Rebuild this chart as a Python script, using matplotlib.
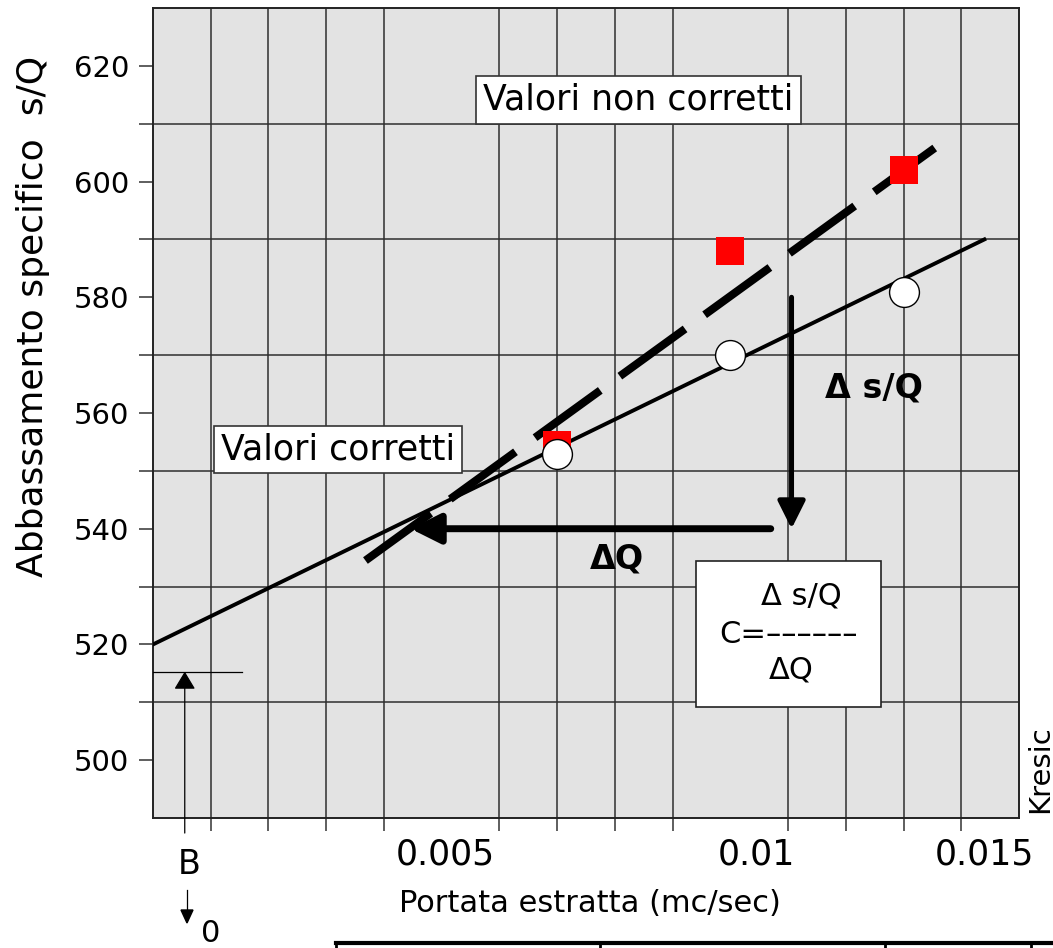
import numpy as np
import matplotlib
matplotlib.use("Agg")
import matplotlib.pyplot as plt
from matplotlib.transforms import ScaledTranslation
from matplotlib.patches import Rectangle
from matplotlib.lines import Line2D

plt.rcParams['font.family'] = ['DejaVu Sans']

# data
q_pts = [0.007, 0.010, 0.013]
sq_corr = [553, 570, 581]          # valori corretti (circles)
sq_uncorr = [554.5, 588, 602]      # valori non corretti (red squares)

fit_corr_q = [0.0, 0.0144]
fit_corr_sq = [520, 590]
fit_uncorr_q = [0.00368, 0.01354]
fit_uncorr_sq = [534.5, 605.8]

dq_arrow_q = [0.0107, 0.00446]     # horizontal arrow (Delta Q)
dq_arrow_sq = 540
ds_arrow_q = 0.01106               # vertical arrow (Delta s/Q)
ds_arrow_sq = [580, 540]

b_q = 0.00055
b_sq = 515.3

yticks = [500, 520, 540, 560, 580, 600, 620]
xticks = [0.005, 0.01, 0.015]
xtick_labels = ['0.005', '0.01', '0.015']

fig = plt.figure(figsize=(10.53, 9.48), dpi=100)
ax = fig.add_axes([153 / 1053, 1 - 818 / 948, 866 / 1053, 810 / 948])
ax.set_facecolor('#e3e3e3')
ax.set_xlim(0, 0.015)
ax.set_ylim(490, 630)

# grid
ax.set_xticks(np.arange(0.001, 0.0145, 0.001), minor=True)
ax.set_yticks(np.arange(500, 621, 10), minor=True)
ax.set_yticks(yticks)
ax.set_xticks(xticks, xtick_labels)
ax.grid(True, which='minor', color='#2e2e2e', lw=1.1, zorder=0)
ax.set_axisbelow(True)
ax.tick_params(axis='x', which='minor', length=9, width=1.1, color='#333333')
ax.tick_params(axis='x', which='major', length=0, pad=14, labelsize=25)
ax.tick_params(axis='y', which='both', length=10, width=1.1, color='#333333')
ax.tick_params(axis='y', which='major', pad=7, labelsize=21)
for s in ax.spines.values():
    s.set_linewidth(1.4)
    s.set_color('#222222')

for lab, dx in zip(ax.get_xticklabels(), [4, 26, -35]):
    lab.set_transform(lab.get_transform() + ScaledTranslation(dx / 100, 0, fig.dpi_scale_trans))

# fitted lines
ax.plot(fit_corr_q, fit_corr_sq, color='black', lw=2.8, zorder=3)
ax.plot(fit_uncorr_q, fit_uncorr_sq, color='black', lw=5.8, ls=(0, (10, 3)),
        solid_capstyle='butt', dash_capstyle='butt', zorder=3)

# points
ax.plot(q_pts, sq_uncorr, ls='none', marker='s', ms=19.5, color='#ff0000', mew=0, zorder=4)
ax.plot(q_pts, sq_corr, ls='none', marker='o', ms=21.5, mfc='white', mec='black', mew=1.0, zorder=5)

# arrows
ax.annotate('', xy=(dq_arrow_q[1], dq_arrow_sq), xytext=(dq_arrow_q[0], dq_arrow_sq),
            arrowprops=dict(arrowstyle='-|>,head_length=0.6,head_width=0.3', mutation_scale=30,
                            lw=5, color='black', shrinkA=0, shrinkB=0), zorder=6)
ax.annotate('', xy=(ds_arrow_q, ds_arrow_sq[1]), xytext=(ds_arrow_q, ds_arrow_sq[0]),
            arrowprops=dict(arrowstyle='-|>,head_length=0.6,head_width=0.3', mutation_scale=28,
                            lw=3.6, color='black', shrinkA=0, shrinkB=0), zorder=6)

# B (intercept) marker
ax.plot([0, 0.00154], [b_sq, b_sq], color='black', lw=0.9, zorder=3)
ax.annotate('', xy=(b_q, b_sq), xytext=(b_q, 487.4),
            arrowprops=dict(arrowstyle='-|>,head_length=0.5,head_width=0.3', mutation_scale=22,
                            lw=0.9, color='black', shrinkA=0, shrinkB=0),
            annotation_clip=False, zorder=6)

# labels inside the plot
box = dict(boxstyle='square,pad=0.2', fc='white', ec='#333333', lw=1.2)
ax.text(0.00841, 614.1, 'Valori non corretti', fontsize=25, ha='center', va='center', bbox=box, zorder=7)
ax.text(0.0032, 553.7, 'Valori corretti', fontsize=25, ha='center', va='center', bbox=box, zorder=7)
ax.text(0.01249, 564.4, 'Δ s/Q', fontsize=24, fontweight='bold', ha='center', va='center', zorder=7)
ax.text(0.00803, 534.7, 'ΔQ', fontsize=24, fontweight='bold', ha='center', va='center', zorder=7)

ax.add_patch(Rectangle((0.00941, 509.2), 0.0032, 25.3, fc='white', ec='#222222', lw=1.2, zorder=7))
ax.text(0.01123, 528.3, 'Δ s/Q', fontsize=22, ha='center', va='center', zorder=8)
ax.text(0.0110, 521.7, 'C=––––––', fontsize=22, ha='center', va='center', zorder=8)
ax.text(0.01106, 515.5, 'ΔQ', fontsize=22, ha='center', va='center', zorder=8)

# axis titles and side notes
fig.text(33 / 1053, 1 - 316 / 948, 'Abbassamento specifico  s/Q', rotation=90,
         ha='center', va='center', fontsize=26)
fig.text(590 / 1053, 1 - 903 / 948, 'Portata estratta (mc/sec)', ha='center', va='center', fontsize=22)
fig.text(1040 / 1053, 1 - 769 / 948, 'Kresic', rotation=90, ha='center', va='center', fontsize=21)
fig.text(189 / 1053, 1 - 865 / 948, 'B', ha='center', va='center', fontsize=24)
fig.text(211 / 1053, 1 - 933 / 948, '0', ha='center', va='center', fontsize=22)
fig.add_artist(Line2D([187 / 1053, 187 / 1053], [1 - 890 / 948, 1 - 912 / 948], color='black', lw=0.9))
fig.add_artist(plt.Polygon([[181 / 1053, 1 - 910 / 948], [193 / 1053, 1 - 910 / 948], [187 / 1053, 1 - 923 / 948]],
                           closed=True, color='black'))

# table edge cut off at the bottom of the page
fig.add_artist(Line2D([336 / 1053, 1.0], [1 - 943 / 948, 1 - 943 / 948], color='black', lw=3))
for xp in [336, 600, 885, 1031]:
    fig.add_artist(Line2D([xp / 1053, xp / 1053], [1 - 943 / 948, 0], color='black', lw=2))

fig.savefig('out.png', dpi=100)
